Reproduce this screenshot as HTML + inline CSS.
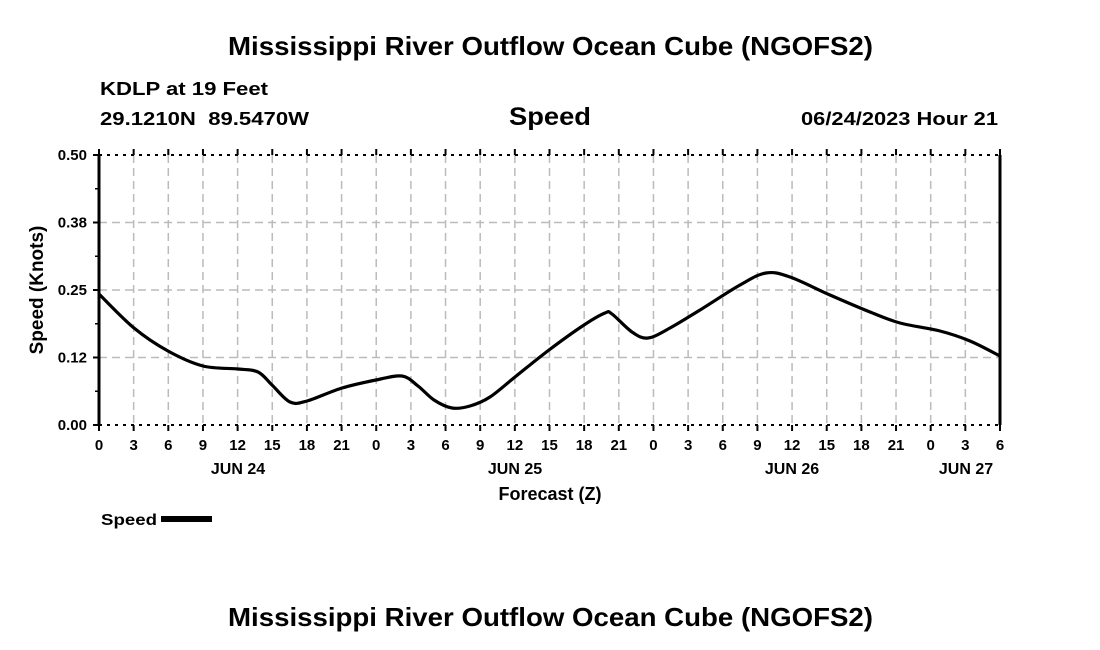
<!DOCTYPE html>
<html><head><meta charset="utf-8"><style>
html,body{margin:0;padding:0;background:#fff;}
svg{display:block;font-family:"Liberation Sans",Arial,sans-serif;font-weight:bold;}
</style></head><body>
<svg id="s" width="1100" height="650" viewBox="0 0 1100 650" xmlns="http://www.w3.org/2000/svg">
<rect width="1100" height="650" fill="#fff"/>
<text x="228" y="55" font-size="26" textLength="645" lengthAdjust="spacingAndGlyphs">Mississippi River Outflow Ocean Cube (NGOFS2)</text>
<text x="100" y="95" font-size="18" textLength="168" lengthAdjust="spacingAndGlyphs">KDLP at 19 Feet</text>
<text x="100" y="125" font-size="18" textLength="209" lengthAdjust="spacingAndGlyphs" xml:space="preserve">29.1210N  89.5470W</text>
<text x="509" y="125" font-size="25" textLength="82" lengthAdjust="spacingAndGlyphs">Speed</text>
<text x="801" y="125" font-size="18" textLength="197" lengthAdjust="spacingAndGlyphs">06/24/2023 Hour 21</text>
<g id="grid" stroke="#bbb" stroke-width="1.5" stroke-dasharray="8,5" fill="none"></g>
<g id="ax" stroke="#000" fill="none"></g>
<g id="lab" font-size="15" fill="#000"></g>
<text x="238" y="474" font-size="16" text-anchor="middle">JUN 24</text>
<text x="515" y="474" font-size="16" text-anchor="middle">JUN 25</text>
<text x="792" y="474" font-size="16" text-anchor="middle">JUN 26</text>
<text x="966" y="474" font-size="16" text-anchor="middle">JUN 27</text>
<text x="550" y="500" font-size="18" text-anchor="middle">Forecast (Z)</text>
<text transform="translate(43,290) rotate(-90)" font-size="19" text-anchor="middle">Speed (Knots)</text>
<text x="101" y="525" font-size="16" textLength="56" lengthAdjust="spacingAndGlyphs">Speed</text>
<rect x="161" y="516" width="51" height="6" fill="#000"/>
<path id="curve" fill="none" stroke="#000" stroke-width="3.2" stroke-linejoin="round"/>
<text x="228" y="626" font-size="26" textLength="645" lengthAdjust="spacingAndGlyphs">Mississippi River Outflow Ocean Cube (NGOFS2)</text>
</svg>
<script>
var ns="http://www.w3.org/2000/svg";
function el(p,t,a,txt){var e=document.createElementNS(ns,t);for(var k in a)e.setAttribute(k,a[k]);if(txt!=null)e.textContent=txt;document.getElementById(p).appendChild(e);return e;}
var x0=99,x1=1000,y0=425,y1=155,n=26,dx=(x1-x0)/n;
var hrs=[0,3,6,9,12,15,18,21];
for(var i=0;i<=n;i++){var x=x0+i*dx;
 if(i>0&&i<n)el("grid","line",{x1:x,y1:y1,x2:x,y2:y0});
 el("ax","line",{x1:x,y1:y0,x2:x,y2:y0+6,"stroke-width":2});
 el("ax","line",{x1:x,y1:y1,x2:x,y2:y1-6,"stroke-width":2});
 el("lab","text",{x:x,y:450,"text-anchor":"middle"},String(hrs[i%8]));
}
var yl=["0.00","0.12","0.25","0.38","0.50"];
for(var j=0;j<=4;j++){var y=y0-j*(y0-y1)/4;
 if(j>0&&j<4)el("grid","line",{x1:x0,y1:y,x2:x1,y2:y});
 el("ax","line",{x1:x0-6,y1:y,x2:x0,y2:y,"stroke-width":2});
 if(j<4)el("ax","line",{x1:x0-4,y1:y-(y0-y1)/8,x2:x0,y2:y-(y0-y1)/8,"stroke-width":1.5});
 el("lab","text",{x:87,y:y+5,"text-anchor":"end"},yl[j]);
}
el("ax","line",{x1:x0,y1:y1,x2:x0,y2:y0,"stroke-width":3});
el("ax","line",{x1:x1,y1:y1,x2:x1,y2:y0,"stroke-width":3});
el("ax","line",{x1:x0,y1:y1,x2:x1,y2:y1,"stroke-width":2,"stroke-dasharray":"3,5"});
el("ax","line",{x1:x0,y1:y0,x2:x1,y2:y0,"stroke-width":2,"stroke-dasharray":"3,5"});
var p=[[99,294],[134,328],[168,351],[203,366],[238,369],[258,372],[272,385],[290,402],[307,401],[342,388],[376,380],[402,376],[418,386],[434,400],[452,408],[470,406],[490,397],[515,377],[549,350],[584,325],[605,313],[612,314],[632,332],[648,338],[670,328],[700,310],[740,285],[766,273],[790,277],[830,295],[870,312],[900,323],[940,331],[970,341],[1000,356]];
var d="M"+p[0][0]+","+p[0][1];
for(var i=0;i<p.length-1;i++){var a=p[Math.max(0,i-1)],b=p[i],c=p[i+1],e=p[Math.min(p.length-1,i+2)];
 d+=" C"+(b[0]+(c[0]-a[0])/6)+","+(b[1]+(c[1]-a[1])/6)+" "+(c[0]-(e[0]-b[0])/6)+","+(c[1]-(e[1]-b[1])/6)+" "+c[0]+","+c[1];}
document.getElementById("curve").setAttribute("d",d);
</script>
</body></html>
